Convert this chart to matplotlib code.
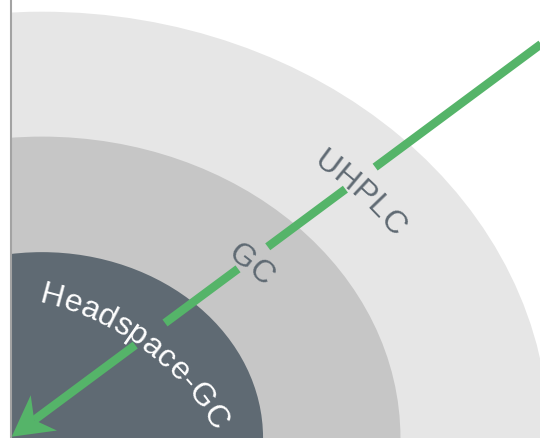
import numpy as np
import matplotlib
matplotlib.use("Agg")
import matplotlib.pyplot as plt
from matplotlib.patches import Wedge, Polygon
from matplotlib.font_manager import FontProperties
from matplotlib.textpath import text_to_path

# ---------------- data ----------------
techniques = ["Headspace-GC", "GC", "UHPLC"]          # inner -> outer
ring_radii = [0.436, 0.707, 1.0]                     # outer radius of each ring (relative)
ring_colors = ["#5f6a73", "#c6c6c6", "#e6e6e6"]
label_colors = ["#ffffff", "#5f6a73", "#5f6a73"]

# ---------------- layout ----------------
W, H, DPI = 540, 438, 100
fig = plt.figure(figsize=(W / DPI, H / DPI), dpi=DPI)
left_px = 10.5
ax = fig.add_axes([left_px / W, 0, 1 - left_px / W, 1])
cx_px = 42.0          # centre of the rings (px from left)
sx, sy = 507.0, 426.3  # px per data unit
ax.set_xlim((left_px - cx_px) / sx, (W - cx_px) / sx)
ax.set_ylim(0, H / sy)
ax.set_xticks([]); ax.set_yticks([])
for side in ["top", "right", "bottom"]:
    ax.spines[side].set_visible(False)
ax.spines["left"].set_color("#a3a3a3")
ax.spines["left"].set_linewidth(1.5)
ax.patch.set_facecolor("white")

for r, c in sorted(zip(ring_radii, ring_colors), reverse=True):
    ax.add_patch(Wedge((0, 0), r, 0, 180, facecolor=c, edgecolor="none", zorder=1))

fig.canvas.draw()
to_disp = ax.transData.transform
to_data = ax.transData.inverted().transform

FS = 23
TRACK = 0.3
fp = FontProperties(family=["Liberation Sans", "DejaVu Sans"], size=FS)


def text_width_px(s):
    if not s:
        return 0.0
    w, h, d = text_to_path.get_text_width_height_descent(s, fp, ismath=False)
    return w * DPI / 72.0


def place_on_curve(s, pts, center_pt, color, track):
    # pts: display coords ordered in reading direction
    seg = np.hypot(np.diff(pts[:, 0]), np.diff(pts[:, 1]))
    L = np.concatenate([[0], np.cumsum(seg)])
    d = np.hypot(pts[:, 0] - center_pt[0], pts[:, 1] - center_pt[1])
    s0 = L[np.argmin(d)]
    offs = [text_width_px(s[:i]) + i * track for i in range(len(s))]
    widths = [text_width_px(s[:i + 1]) - text_width_px(s[:i]) for i in range(len(s))]
    total = text_width_px(s) + (len(s) - 1) * track
    for i, ch in enumerate(s):
        si = s0 + offs[i] + widths[i] / 2 - total / 2
        x = np.interp(si, L, pts[:, 0]); y = np.interp(si, L, pts[:, 1])
        x2 = np.interp(si + 1, L, pts[:, 0]); y2 = np.interp(si + 1, L, pts[:, 1])
        x1 = np.interp(si - 1, L, pts[:, 0]); y1 = np.interp(si - 1, L, pts[:, 1])
        ang = np.degrees(np.arctan2(y2 - y1, x2 - x1))
        dx, dy = to_data((x, y))
        ax.text(dx, dy, ch, fontproperties=fp, color=color, rotation=ang,
                rotation_mode="anchor", ha="center", va="baseline", zorder=5)


def ellipse_pts(r):
    th = np.radians(np.linspace(179, 1, 3000))
    return to_disp(np.column_stack([r * np.cos(th), r * np.sin(th)]))


# ---------------- arrow ----------------
green = "#55b469"
tip_px = np.array([11.7, H - 436.7])
start_px = np.array([560.0, H - 30.0])
u = (start_px - tip_px) / np.hypot(*(start_px - tip_px))
n = np.array([-u[1], u[0]])


def gap_center(rg):
    # intersection of arrow line with ellipse of radius rg (data)
    ts = np.linspace(0, 1, 20000)
    P = tip_px[None, :] + ts[:, None] * (start_px - tip_px)[None, :]
    D = to_data(P)
    rr = np.hypot(D[:, 0], D[:, 1])
    return P[np.argmin(np.abs(rr - rg))]


gap_radii = [0.324, 0.593, 0.875]
half_gap = 18.5
notch = tip_px + 28 * u
cuts = [start_px]
for rg in sorted(gap_radii, reverse=True):
    g = gap_center(rg)
    cuts.append(g + half_gap * u)
    cuts.append(g - half_gap * u)
cuts.append(notch)
for a, b in zip(cuts[0::2], cuts[1::2]):
    seg = to_data(np.array([a, b]))
    ax.plot(seg[:, 0], seg[:, 1], color=green, lw=8.5 * 72 / DPI,
            solid_capstyle="butt", zorder=3)

head = np.array([tip_px, tip_px + 40 * u + 22 * n, notch,
                 tip_px + 40 * u - 22 * n])
ax.add_patch(Polygon(to_data(head), closed=True, facecolor=green,
                     edgecolor="none", zorder=4))

# ---------------- labels ----------------
# UHPLC on outer ring, GC on middle ring (ellipse paths)
r_u = 0.836
uh_pts = ellipse_pts(r_u)
th_c = np.radians(42.3)
place_on_curve(techniques[2], uh_pts, to_disp((r_u * np.cos(th_c), r_u * np.sin(th_c))),
               label_colors[2], TRACK)
r_g = 0.561
gc_pts = ellipse_pts(r_g)
th_c = np.radians(44.4)
place_on_curve(techniques[1], gc_pts, to_disp((r_g * np.cos(th_c), r_g * np.sin(th_c))),
               label_colors[1], TRACK)
# Headspace-GC on a flatter arc inside the inner disc
hc = np.array([-17.6, H - 560.0])
hr = 264.0
th = np.radians(np.linspace(120, 0, 3000))
hs_pts = np.column_stack([hc[0] + hr * np.cos(th), hc[1] + hr * np.sin(th)])
th_c = np.radians(53.4)
place_on_curve(techniques[0], hs_pts, hc + hr * np.array([np.cos(th_c), np.sin(th_c)]),
               label_colors[0], TRACK)

fig.savefig("out.png", dpi=DPI)
